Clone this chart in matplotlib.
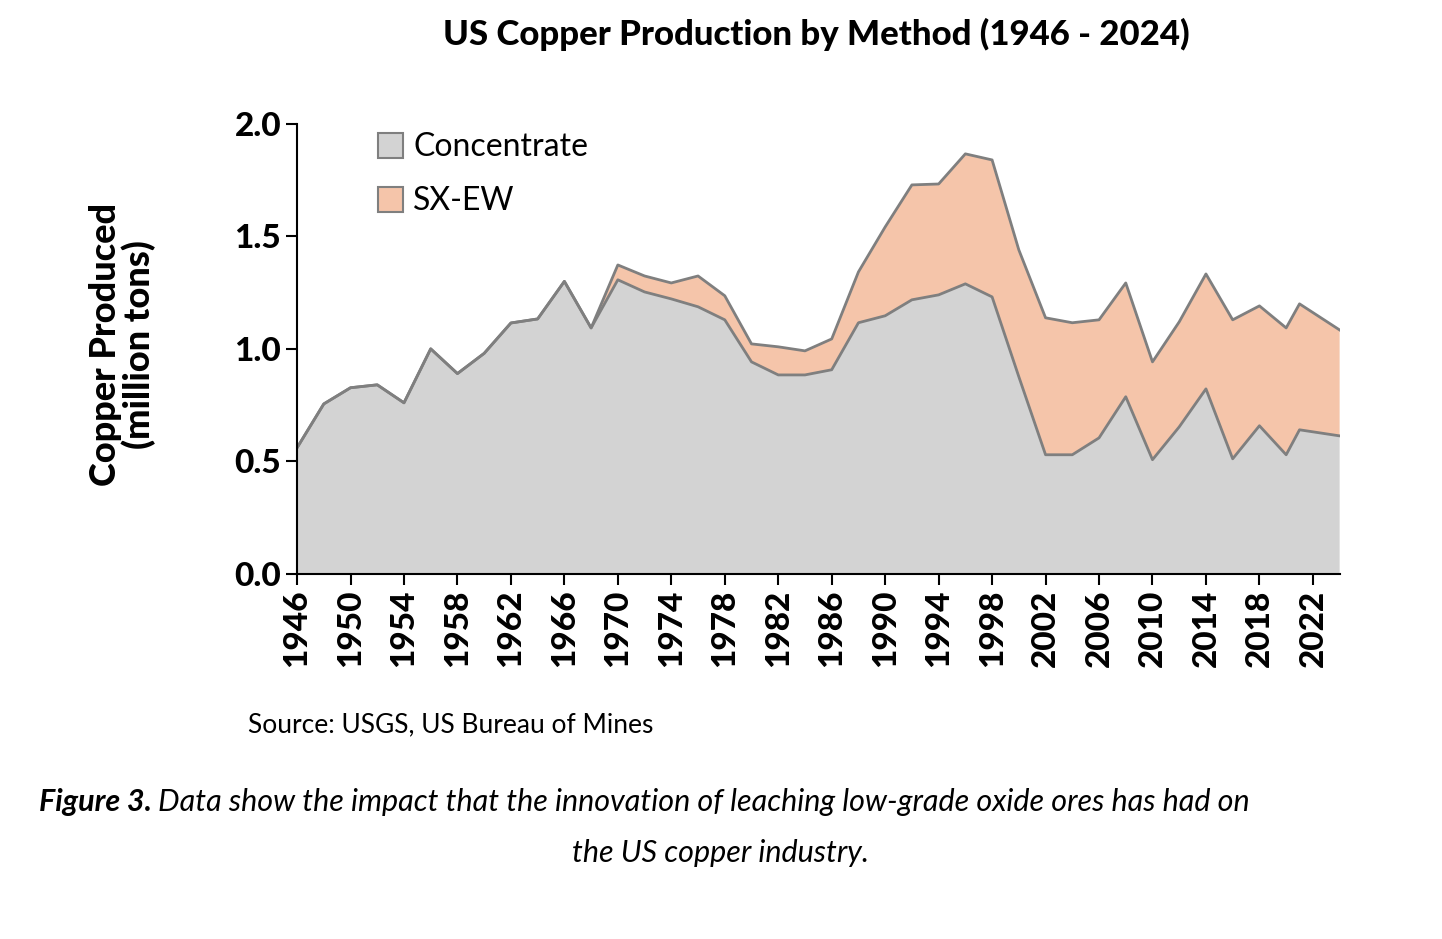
import matplotlib
matplotlib.use("Agg")
import matplotlib.pyplot as plt
import numpy as np

plt.rcParams['font.family'] = ['Lato', 'DejaVu Sans']

years = [1946,1948,1950,1952,1954,1956,1958,1960,1962,1964,1966,1968,1970,1972,1974,1976,1978,
         1980,1982,1984,1986,1988,1990,1992,1994,1996,1998,2000,2002,2004,2006,2008,2010,2012,
         2014,2016,2018,2020,2021,2024]
total = [0.56,0.755,0.827,0.84,0.76,1.0,0.89,0.98,1.115,1.133,1.30,1.093,1.373,1.324,1.293,1.324,1.236,
         1.022,1.009,0.991,1.044,1.342,1.542,1.729,1.733,1.867,1.84,1.44,1.138,1.116,1.129,1.293,0.942,1.12,
         1.333,1.129,1.191,1.093,1.20,1.084]
concentrate = [0.56,0.755,0.827,0.84,0.76,1.0,0.89,0.98,1.115,1.133,1.30,1.093,1.307,1.253,1.222,1.187,1.129,
               0.942,0.884,0.884,0.907,1.116,1.147,1.218,1.24,1.289,1.231,0.876,0.529,0.529,0.604,0.787,0.507,0.653,
               0.822,0.511,0.658,0.529,0.64,0.613]
sxew = [t - c for t, c in zip(total, concentrate)]

fig = plt.figure(figsize=(14.42, 9.39), dpi=100)
ax = fig.add_axes([0.206, 0.389, 0.723, 0.479])
ax.stackplot(years, concentrate, sxew, colors=['#d3d3d3', '#f5c5aa'],
             labels=['Concentrate', 'SX-EW'], edgecolor='none')
ax.plot(years, concentrate, color='#7f7f7f', lw=2)
ax.plot(years, total, color='#7f7f7f', lw=2)
ax.set_xlim(1946, 2024)
ax.set_ylim(0, 2.0)
ax.set_xticks(range(1946, 2023, 4))
ax.set_xticklabels([str(y) for y in range(1946, 2023, 4)], rotation=90, fontsize=24, fontweight='black')
ax.set_yticks([0, 0.5, 1.0, 1.5, 2.0])
ax.set_yticklabels(['0.0', '0.5', '1.0', '1.5', '2.0'], fontsize=24, fontweight='black')
for s in ['top', 'right']:
    ax.spines[s].set_visible(False)
for s in ['left', 'bottom']:
    ax.spines[s].set_linewidth(1.5)
ax.tick_params(length=8, width=1.5)
fig.text(0.085, 0.633, 'Copper Produced\n(million tons)', fontsize=26, fontweight='black',
         rotation=90, ha='center', va='center', linespacing=1.0)
fig.text(0.566, 0.963, 'US Copper Production by Method (1946 - 2024)', fontsize=25, fontweight='black',
         ha='center', va='center')
leg = ax.legend(loc='upper left', bbox_to_anchor=(0.05, 1.045), frameon=False, fontsize=23,
                handlelength=0.8, handleheight=0.8, labelspacing=0.75, handletextpad=0.3)
for h in leg.legend_handles:
    h.set_edgecolor('#7f7f7f'); h.set_linewidth(1.5)
fig.text(0.172, 0.22, 'Source: USGS, US Bureau of Mines', fontsize=19)
t1 = fig.text(0.027, 0.146, 'Figure 3.', fontsize=22, style='italic', fontweight='bold', ha='left', va='center')
r = fig.canvas.get_renderer()
bb = t1.get_window_extent(r)
fig.text(bb.x1 / fig.bbox.width + 0.004, 0.146,
         'Data show the impact that the innovation of leaching low-grade oxide ores has had on',
         fontsize=22, style='italic', ha='left', va='center')
fig.text(0.5, 0.092, 'the US copper industry.', fontsize=22, style='italic', ha='center', va='center')
fig.savefig('out.png', dpi=100)
